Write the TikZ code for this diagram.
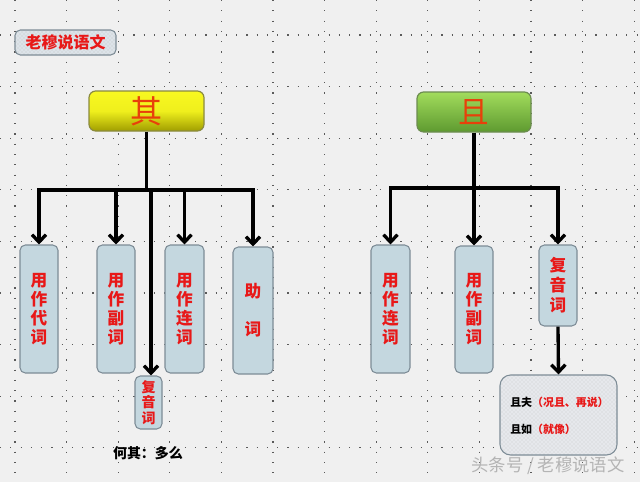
\documentclass[tikz,border=0pt]{standalone}
\usepackage{fontspec}
\newfontfamily\cjk{Noto Sans CJK SC}
\usetikzlibrary{arrows.meta,patterns}
\definecolor{bg}{HTML}{F0F0F0}
\definecolor{dotc}{HTML}{5A5A5A}
\definecolor{boxfill}{HTML}{C4D7DF}
\definecolor{boxdraw}{HTML}{7D8C96}
\definecolor{redt}{HTML}{E81818}
\definecolor{orangered}{HTML}{E8400A}
\definecolor{yelA}{HTML}{F8F820}
\definecolor{yelB}{HTML}{A09E00}
\definecolor{yeldraw}{HTML}{8A8A40}
\definecolor{grnA}{HTML}{A2DC5C}
\definecolor{grnB}{HTML}{5E9A30}
\definecolor{grndraw}{HTML}{6C8C50}
\definecolor{titlefill}{HTML}{DCE3E9}
\definecolor{notefill}{HTML}{E6E8EC}
\definecolor{wm}{HTML}{B4B4B4}
\begin{document}
\begin{tikzpicture}[x=0.75pt,y=-0.75pt,
  griddot/.style={dotc,line width=0.9pt,dash pattern=on 0.9pt off 6.8pt},
  wordbox/.style={draw=boxdraw,fill=boxfill,line width=0.8pt,rounded corners=4pt,
    inner sep=0pt,align=center,font=\cjk\bfseries\fontsize{12.5}{14.3}\selectfont,text=redt},
  conn/.style={line width=2.5pt,black,line join=miter},
  arr/.style={line width=2.5pt,black,line join=miter,-{Straight Barb[length=5.5pt,width=10.5pt]}},
  txt/.style={inner sep=0pt,font=\cjk\bfseries}]
\fill[bg] (0,0) rectangle (640,482);
\useasboundingbox (0,0) rectangle (640,482);
% dotted grid
\foreach \i in {0,...,12} {\draw[griddot] ({15+51.6*\i},0) -- ({15+51.6*\i},482);}
\foreach \i in {0,...,8} {\draw[griddot] (0,{35+51.6*\i}) -- (640,{35+51.6*\i});}

% title
\node[draw=boxdraw,line width=0.8pt,rounded corners=4pt,
  preaction={fill=titlefill},pattern=crosshatch dots,pattern color=gray!45,
  minimum width={101*0.75pt},minimum height={25*0.75pt},inner sep=0pt,
  font=\cjk\bfseries\fontsize{12}{14}\selectfont,text=redt] (title) at (65.5,42.5) {老穆说语文};

% left tree
\node[draw=yeldraw,line width=0.9pt,rounded corners=5pt,top color=yelA,bottom color=yelB,
  middle color=yelA!90!yelB,
  minimum width={115*0.75pt},minimum height={40*0.75pt},inner sep=0pt,
  font=\cjk\fontsize{24}{26}\selectfont,text=orangered] (qi) at (146.5,111) {其};
\node[wordbox,minimum width={38*0.75pt},minimum height={128*0.75pt}] (b1) at (39,309) {用\\作\\代\\词};
\node[wordbox,minimum width={38*0.75pt},minimum height={128*0.75pt}] (b2) at (116,309) {用\\作\\副\\词};
\node[wordbox,minimum width={39*0.75pt},minimum height={128*0.75pt}] (b3) at (184.5,309) {用\\作\\连\\词};
\node[wordbox,minimum width={40*0.75pt},minimum height={127*0.75pt}] (b4) at (253,310.5) {助\\ \\词};
\node[wordbox,minimum width={27*0.75pt},minimum height={53*0.75pt},
  font=\cjk\bfseries\fontsize{10.5}{11.4}\selectfont] (b5) at (148.5,402.5) {复\\音\\词};
\node[txt,font=\cjk\bfseries\fontsize{10.5}{12}\selectfont] (heqi) at (148,453) {何其：多么};

\coordinate (lj) at (146.5,190);
\coordinate (lk) at (151,190);
\draw[conn] (qi.south) -- (lj);
\draw[arr] (lj) -| (b1.north);
\draw[arr] (lj) -| (b4.north);
\draw[arr] (b2.north |- lj) -- (b2.north);
\draw[arr] (b3.north |- lj) -- (b3.north);
\draw[arr] (lk) -- (lk |- b5.north);

% right tree
\node[draw=grndraw,line width=0.9pt,rounded corners=5pt,top color=grnA,bottom color=grnB,
  minimum width={114*0.75pt},minimum height={40*0.75pt},inner sep=0pt,
  font=\cjk\fontsize{23}{25}\selectfont,text=orangered] (qie) at (474,112) {且};
\node[wordbox,minimum width={39*0.75pt},minimum height={128*0.75pt}] (r1) at (390.5,309) {用\\作\\连\\词};
\node[wordbox,minimum width={38*0.75pt},minimum height={127*0.75pt}] (r2) at (474,309.5) {用\\作\\副\\词};
\node[wordbox,minimum width={38*0.75pt},minimum height={81*0.75pt},
  font=\cjk\bfseries\fontsize{12.5}{15}\selectfont] (r3) at (558,285.5) {复\\音\\词};
\node[draw=boxdraw,line width=0.8pt,rounded corners=8pt,
  preaction={fill=notefill},pattern=crosshatch dots,pattern color=gray!40,
  minimum width={117*0.75pt},minimum height={80*0.75pt},inner sep=0pt] (r4) at (558.5,415) {};
\node[txt,anchor=west,font=\cjk\bfseries\fontsize{8.2}{9.5}\selectfont] (t1) at (510,402) {且夫\textcolor{redt}{（况且、再说）}};
\node[txt,anchor=west,font=\cjk\bfseries\fontsize{8.2}{9.5}\selectfont] (t2) at (510,429) {且如\textcolor{redt}{（就像）}};

\coordinate (rj) at (474,188);
\draw[conn] (qie.south) -- (rj);
\draw[arr] (rj) -| (r1.north);
\draw[arr] (rj) -| (r3.north);
\draw[arr] (r2.north |- rj) -- (r2.north);
\draw[arr] (r3.south) -- (r4.north);

% watermark
\node[txt,font=\cjk\fontsize{13}{15}\selectfont,text=wm] (wmark) at (548,466) {头条号 / 老穆说语文};
\end{tikzpicture}
\end{document}
